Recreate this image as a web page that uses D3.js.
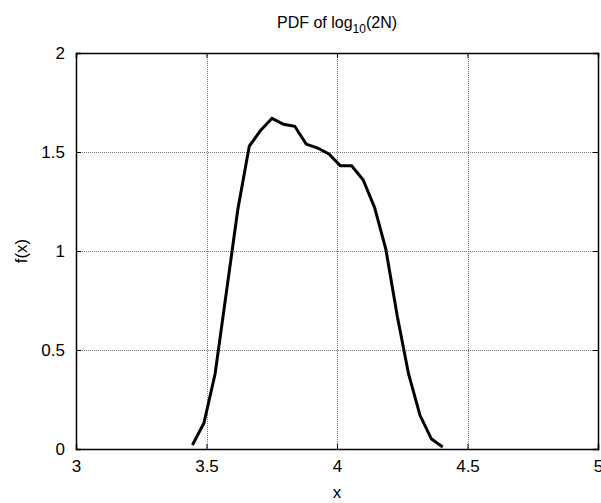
<!DOCTYPE html>
<html>
<head>
<meta charset="utf-8">
<script src="https://cdn.jsdelivr.net/npm/d3@7"></script>
<style>
  body { margin: 0; background: #fff; }
  svg { display: block; font-family: "Liberation Sans", Arial, sans-serif; }
  .grid line { stroke: #7a7a7a; stroke-dasharray: 1,1; shape-rendering: crispEdges; }
  .tick text { font-size: 17px; fill: #000; }
</style>
</head>
<body>
<div id="graph"></div>
<script>
var xs = [3.446, 3.490, 3.533, 3.577, 3.620, 3.664, 3.708, 3.751, 3.795, 3.838, 3.882, 3.926,
          3.969, 4.013, 4.056, 4.100, 4.144, 4.187, 4.231, 4.274, 4.318, 4.362, 4.405];
var fx = [0.02, 0.13, 0.38, 0.80, 1.21, 1.53, 1.61, 1.67, 1.64, 1.63, 1.54, 1.52,
          1.49, 1.43, 1.43, 1.36, 1.22, 1.01, 0.67, 0.38, 0.17, 0.05, 0.01];
var xTicks = [3, 3.5, 4, 4.5, 5];
var yTicks = [0, 0.5, 1, 1.5, 2];

var width = 601, height = 503;
var margin = { top: 53, left: 76, bottom: 54, right: 3 };
var chartWidth = width - margin.left - margin.right;
var chartHeight = height - margin.top - margin.bottom;

var svg = d3.select("#graph").append("svg").attr("width", width).attr("height", height);
var chart = svg.append("g").attr("transform", "translate(" + [margin.left, margin.top] + ")");

var xScale = d3.scaleLinear().domain([3, 5]).range([0, chartWidth]);
var yScale = d3.scaleLinear().domain([0, 2]).range([chartHeight, 0]);

// grid
var grid = chart.append("g").attr("class", "grid");
grid.selectAll(".gx").data(xTicks.slice(1, -1)).enter().append("line")
  .attr("x1", function(d) { return Math.round(xScale(d)) + 0.5; })
  .attr("x2", function(d) { return Math.round(xScale(d)) + 0.5; })
  .attr("y1", 0).attr("y2", chartHeight);
grid.selectAll(".gy").data(yTicks.slice(1, -1)).enter().append("line")
  .attr("y1", function(d) { return Math.round(yScale(d)) + 0.5; })
  .attr("y2", function(d) { return Math.round(yScale(d)) + 0.5; })
  .attr("x1", 0).attr("x2", chartWidth);

// axes, ticks inward
var xAxis = chart.append("g").attr("transform", "translate(0," + chartHeight + ")")
  .call(d3.axisBottom(xScale).tickValues(xTicks).tickSize(-5).tickPadding(11).tickFormat(d3.format("")));
var xAxisTop = chart.append("g")
  .call(d3.axisTop(xScale).tickValues(xTicks).tickSize(-5).tickFormat(""));
var yAxis = chart.append("g")
  .call(d3.axisLeft(yScale).tickValues(yTicks).tickSize(-5).tickPadding(11).tickFormat(d3.format("")));
var yAxisRight = chart.append("g").attr("transform", "translate(" + chartWidth + ",0)")
  .call(d3.axisRight(yScale).tickValues(yTicks).tickSize(-5).tickFormat(""));

chart.selectAll(".domain").attr("stroke", "#000").attr("stroke-width", 1.5);
chart.selectAll(".tick line").attr("stroke", "#000");

// curve
var line = d3.line()
  .x(function(d, i) { return xScale(xs[i]); })
  .y(function(d) { return yScale(d); });

chart.append("path")
  .datum(fx)
  .attr("fill", "none")
  .attr("stroke", "#000")
  .attr("stroke-width", 3)
  .attr("d", line);

// title and labels
var title = svg.append("text")
  .attr("x", margin.left + chartWidth / 2)
  .attr("y", 28)
  .attr("text-anchor", "middle")
  .style("font-size", "16px");
title.append("tspan").text("PDF of log");
title.append("tspan").attr("dy", 5).style("font-size", "12px").text("10");
title.append("tspan").attr("dy", -5).text("(2N)");

svg.append("text")
  .attr("x", margin.left + chartWidth / 2)
  .attr("y", 498)
  .attr("text-anchor", "middle")
  .style("font-size", "17px")
  .text("x");

svg.append("text")
  .attr("transform", "translate(27," + (margin.top + chartHeight / 2) + ") rotate(-90)")
  .attr("text-anchor", "middle")
  .style("font-size", "17px")
  .text("f(x)");
</script>
</body>
</html>
